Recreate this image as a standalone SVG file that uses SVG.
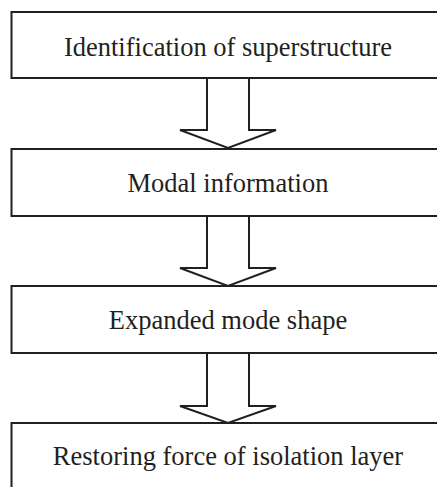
<svg xmlns="http://www.w3.org/2000/svg" width="437" height="487" viewBox="0 0 437 487">
  <style>
    .box { fill: #ffffff; stroke: #231f20; stroke-width: 2; }
    .arrow { fill: #ffffff; stroke: #231f20; stroke-width: 2; stroke-linejoin: miter; }
    .label { font-family: "Liberation Serif", "Times New Roman", serif; font-size: 26.5px; fill: #231f20; text-anchor: middle; }
  </style>
  <rect width="437" height="487" fill="#ffffff"/>

  <!-- block arrows between steps -->
  <g id="connectors">
    <path class="arrow" d="M207,78 L249,78 L249,130 L276,130 L228,148 L180,130 L207,130 Z"/>
    <path class="arrow" d="M207,216 L249,216 L249,268 L276,268 L228,286 L180,268 L207,268 Z"/>
    <path class="arrow" d="M207,353 L249,353 L249,406 L276,406 L228,423 L180,406 L207,406 Z"/>
  </g>

  <g id="step-identification">
    <rect class="box" x="11.5" y="12" width="434" height="66"/>
    <text class="label" x="228" y="56">Identification of superstructure</text>
  </g>

  <g id="step-modal">
    <rect class="box" x="11.5" y="149" width="434" height="67"/>
    <text class="label" x="228" y="192">Modal information</text>
  </g>

  <g id="step-expanded">
    <rect class="box" x="11.5" y="286" width="434" height="67"/>
    <text class="label" x="228" y="329">Expanded mode shape</text>
  </g>

  <g id="step-restoring">
    <rect class="box" x="11.5" y="423" width="434" height="80"/>
    <text class="label" x="228" y="465">Restoring force of isolation layer</text>
  </g>
</svg>
